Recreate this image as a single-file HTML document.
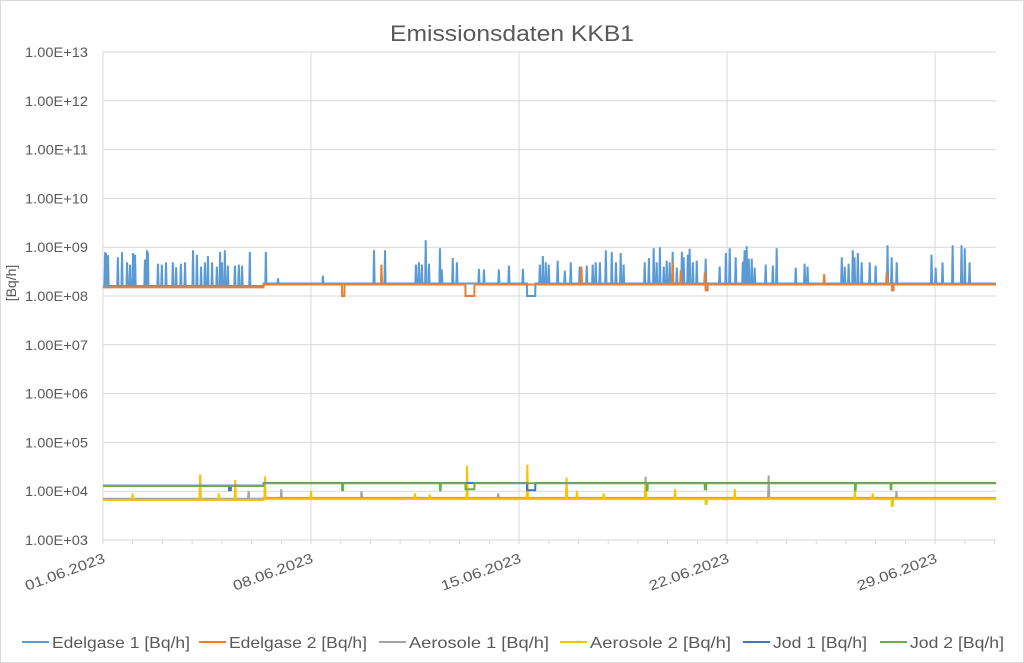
<!DOCTYPE html>
<html><head><meta charset="utf-8"><style>
body{margin:0;background:#fff;font-family:"Liberation Sans",sans-serif}
#wrap{position:relative;width:1024px;height:663px;overflow:hidden}
</style></head><body>
<div id="wrap">
<svg id="chart" width="1024" height="663" font-family="Liberation Sans, sans-serif">
<rect x="0.5" y="0.5" width="1023" height="662" fill="#fff" stroke="#d9d9d9"/>
<text x="390" y="41" font-size="22" fill="#595959" textLength="244" lengthAdjust="spacingAndGlyphs">Emissionsdaten KKB1</text>
<text transform="translate(16,283) rotate(-90)" text-anchor="middle" font-size="14" fill="#595959">[Bq/h]</text>
<g id="grid"></g><g id="series"></g><g id="axes"></g><g id="legend"></g>
</svg>
</div>
<script>
const yTickExps=[3,4,5,6,7,8,9,10,11,12,13];
const xTickLabels=["01.06.2023","08.06.2023","15.06.2023","22.06.2023","29.06.2023"];
const xTickDays=[0,7,14,21,28];
const seriesNames=["Edelgase 1 [Bq/h]","Edelgase 2 [Bq/h]","Aerosole 1 [Bq/h]","Aerosole 2 [Bq/h]","Jod 1 [Bq/h]","Jod 2 [Bq/h]"];
const seriesColors=["#5b9bd5","#ed7d31","#a5a5a5","#ffc000","#4472c4","#70ad47"];
const edel1Base=[[0,1.6e8],[5.4,1.8e8]];
const edel1Spikes=[[0.07,7.9e8],[0.1,7.6e8],[0.17,6.9e8],[0.5,6.2e8],[0.64,7.9e8],[0.81,4.9e8],[0.91,4.4e8],[1.01,7.6e8],[1.08,7e8],[1.41,5.6e8],[1.48,8.7e8],[1.51,7.9e8],[1.85,4.6e8],[1.98,4.4e8],[2.12,4.9e8],[2.35,4.9e8],[2.46,3.9e8],[2.62,4.6e8],[2.76,4.9e8],[3.03,8.7e8],[3.16,7e8],[3.3,4e8],[3.43,4.9e8],[3.53,6.6e8],[3.67,4.9e8],[3.83,4e8],[3.94,8e8],[4.0,4.9e8],[4.1,8.7e8],[4.2,4.2e8],[4.44,4.2e8],[4.57,4.4e8],[4.68,4.2e8],[4.94,8e8],[5.48,8e8],[5.89,2.3e8],[7.4,2.6e8],[9.12,8.7e8],[9.49,8.7e8],[10.53,4.4e8],[10.63,4.9e8],[10.73,4.4e8],[10.86,1.4e9],[10.97,4.6e8],[11.34,9.5e8],[11.4,3.5e8],[11.77,6e8],[11.91,4.9e8],[12.65,3.6e8],[12.82,3.5e8],[13.32,3.5e8],[13.66,4.2e8],[14.13,3.6e8],[14.7,4.4e8],[14.8,6.6e8],[14.9,4.9e8],[15.0,4.4e8],[15.3,5.3e8],[15.54,3.3e8],[15.74,4.9e8],[16.04,4e8],[16.28,4.2e8],[16.48,4.4e8],[16.58,4.9e8],[16.72,4.9e8],[16.92,8.7e8],[17.12,8e8],[17.26,4.9e8],[17.42,7.6e8],[17.52,4.4e8],[18.23,4.9e8],[18.37,6e8],[18.53,9.5e8],[18.63,4.9e8],[18.74,1e9],[18.87,4e8],[18.97,5.3e8],[19.07,4.9e8],[19.17,8e8],[19.31,3.8e8],[19.48,8e8],[19.54,6.2e8],[19.68,7e8],[19.74,9.3e8],[19.85,4.9e8],[19.98,5.3e8],[20.28,5.8e8],[20.75,4e8],[20.96,7.6e8],[21.09,9.5e8],[21.29,6.2e8],[21.53,5.1e8],[21.59,8.7e8],[21.66,1.05e9],[21.73,5.8e8],[21.83,5.8e8],[21.93,3.8e8],[22.3,4.4e8],[22.54,4.2e8],[22.67,9.5e8],[23.31,3.8e8],[23.61,4.6e8],[23.71,4e8],[24.86,6.2e8],[24.96,4e8],[25.09,4.6e8],[25.23,8.7e8],[25.29,6.2e8],[25.4,7.6e8],[25.53,4.9e8],[25.8,4.9e8],[26.0,4.2e8],[26.4,1.1e9],[26.54,6.2e8],[26.71,4.9e8],[27.88,7e8],[28.02,3.8e8],[28.25,4.9e8],[28.59,1.1e9],[28.89,1.1e9],[29.0,9.5e8],[29.16,4.9e8]];
const edel1Dips=[[14.27,14.55,1e8]];
const edel2Base=[[0,1.5e8],[5.4,1.72e8]];
const edel2Spikes=[[9.37,4.4e8],[16.1,4e8],[19.17,4.9e8],[19.44,3.4e8],[20.25,3e8],[24.27,2.8e8],[26.37,3e8]];
const edel2Dips=[[8.04,8.12,1e8],[12.2,12.5,1e8],[20.28,20.35,1.3e8],[26.55,26.6,1.3e8]];
const aero1Base=[[0,7.0e3],[5.4,7.3e3]];
const aero1Spikes=[[3.27,2.2e4],[5.45,1.2e4],[8.7,1e4],[13.3,9e3],[18.26,2e4],[22.4,2.1e4],[26.7,1.0e4],[4.9,1.0e4],[6.0,1.1e4]];
const aero1Dips=[];
const aero2Base=[[0,6.6e3],[5.4,6.9e3]];
const aero2Spikes=[[3.27,2.2e4],[4.45,1.7e4],[5.45,2.0e4],[3.9,9e3],[1.0,9e3],[7.0,1e4],[12.25,3.3e4],[14.28,3.5e4],[15.6,1.9e4],[15.95,1e4],[16.85,9e3],[18.26,1.5e4],[19.25,1.1e4],[21.26,1.1e4],[25.3,1.1e4],[25.9,9e3],[10.5,9e3],[11.0,8.5e3]];
const aero2Dips=[[26.54,26.58,5e3],[20.28,20.32,5.5e3]];
const jod1Base=[[0,1.3e4],[5.4,1.47e4]];
const jod1Spikes=[];
const jod1Dips=[[4.24,4.3,1.05e4],[14.27,14.55,1.05e4]];
const jod2Base=[[0,1.28e4],[5.4,1.45e4]];
const jod2Spikes=[];
const jod2Dips=[[8.04,8.08,1.05e4],[11.34,11.37,1.05e4],[12.2,12.5,1.1e4],[18.3,18.33,1.05e4],[20.25,20.3,1.1e4],[25.3,25.33,1.05e4],[26.5,26.53,1.1e4]];

const X0=103,X1=996,DAYS=30.05,Y13=52,DEC=48.8;
const NS="http://www.w3.org/2000/svg";
function xs(d){return X0+d*(X1-X0)/DAYS;}
function ys(v){return Y13+(13-Math.log10(v))*DEC;}
function mk(tag,attrs,parent){const e=document.createElementNS(NS,tag);for(const k in attrs)e.setAttribute(k,attrs[k]);parent.appendChild(e);return e;}
const grid=document.getElementById('grid'),axes=document.getElementById('axes'),ser=document.getElementById('series'),leg=document.getElementById('legend');
yTickExps.forEach(e=>{
  const y=ys(Math.pow(10,e));
  if(e>3){const l=mk('line',{x1:X0,x2:X1,y1:y,y2:y,stroke:'#d9d9d9','stroke-width':1},grid);
  
  }
  const t=mk('text',{x:25,y:y+5,'font-size':14,fill:'#595959',textLength:63,lengthAdjust:'spacingAndGlyphs'},axes);
  t.textContent='1.00E+'+(e<10?'0'+e:e);
  
  
});
xTickDays.forEach((d,i)=>{
  const x=xs(d);
  const l=mk('line',{x1:x,x2:x,y1:Y13,y2:ys(1e3),stroke:'#d9d9d9','stroke-width':1},grid);
  
  
  const t=mk('text',{transform:`translate(${x+3},${ys(1e3)+22}) rotate(-20)`,'text-anchor':'end','font-size':14,fill:'#595959',textLength:84,lengthAdjust:'spacingAndGlyphs'},axes);
  t.textContent=xTickLabels[i];
  
  
});
for(let d=0;d<=30;d++){const x=xs(d);const l=mk('line',{x1:x,x2:x,y1:ys(1e3),y2:ys(1e3)+4,stroke:'#d9d9d9'},axes);
  
  }
const ax=mk('line',{x1:X0,x2:X1,y1:ys(1e3),y2:ys(1e3),stroke:'#d9d9d9'},axes);



function valueAt(t,base,spikes,dips){
  let v=base[0][1];for(const b of base)if(t>=b[0])v=b[1];
  for(const d of dips)if(t>=d[0]&&t<=d[1])v=d[2];
  for(const s of spikes){const w=0.02;const dd=Math.abs(t-s[0]);if(dd<w){const lv=Math.log10(v)+(Math.log10(s[1])-Math.log10(v))*(1-dd/w);v=(s[1]<v)?Math.min(v,Math.pow(10,lv)):Math.max(v,Math.pow(10,lv));}}
  return v;
}
const all=[[edel1Base,edel1Spikes,edel1Dips],[edel2Base,edel2Spikes,edel2Dips],[aero1Base,aero1Spikes,aero1Dips],[aero2Base,aero2Spikes,aero2Dips],[jod1Base,jod1Spikes,jod1Dips],[jod2Base,jod2Spikes,jod2Dips]];
[0,1,2,3,4,5].forEach(i=>{
  const [b,s,dp]=all[i];let pts=[];
  for(let t=0;t<=DAYS;t+=0.005){pts.push(xs(t).toFixed(1)+','+ys(valueAt(t,b,s,dp)).toFixed(1));}
  const p=mk('polyline',{points:pts.join(' '),fill:'none',stroke:seriesColors[i],'stroke-width':2,'stroke-linejoin':'miter'},ser);
  
  
});
const legX=[22,199,379,560,743,880];
const legW=[138,138,140,141,94,94];
seriesNames.forEach((n,i)=>{
  const g=mk('g',{},leg);
  
  
  mk('line',{x1:legX[i],x2:legX[i]+27,y1:642,y2:642,stroke:seriesColors[i],'stroke-width':2},g);
  const t=mk('text',{x:legX[i]+30,y:648,'font-size':16,fill:'#595959',textLength:legW[i],lengthAdjust:'spacingAndGlyphs'},g);
  t.textContent=n;
});
</script>
</body></html>
